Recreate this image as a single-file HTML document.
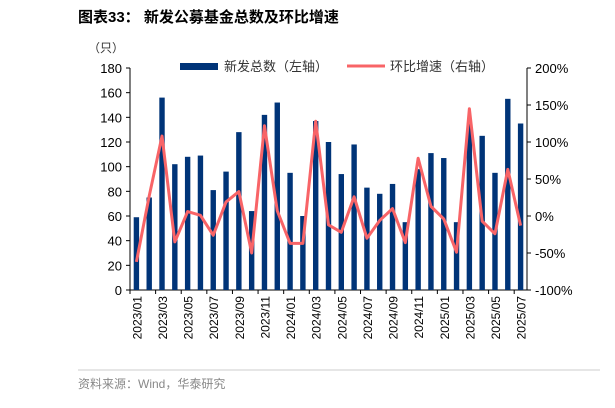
<!DOCTYPE html>
<html><head><meta charset="utf-8"><style>
body{margin:0;background:#fff;width:615px;height:403px;overflow:hidden;font-family:"Liberation Sans","Noto Sans CJK SC",sans-serif}
</style></head><body>
<svg id="c" width="615" height="403" xmlns="http://www.w3.org/2000/svg">
<text x="78" y="22" font-size="15" font-weight="bold" fill="#000" font-family="Liberation Sans,Noto Sans CJK SC,sans-serif">图表33：  新发公募基金总数及环比增速</text>
<text x="88" y="52" font-size="12" fill="#333">（只）</text>
<text x="78" y="388" font-size="12" fill="#888">资料来源：Wind，华泰研究</text>
<line x1="78" y1="370" x2="600" y2="370" stroke="#ccc"/>
<g id="g"></g>
</svg>
<script>
const categories=["2023/01","2023/02","2023/03","2023/04","2023/05","2023/06","2023/07","2023/08","2023/09","2023/10","2023/11","2023/12","2024/01","2024/02","2024/03","2024/04","2024/05","2024/06","2024/07","2024/08","2024/09","2024/10","2024/11","2024/12","2025/01","2025/02","2025/03","2025/04","2025/05","2025/06","2025/07"];
const newFunds=[59,75,156,102,108,109,81,96,128,64,142,152,95,60,137,120,94,118,83,78,86,55,98,111,107,55,135,125,95,155,135];
const momGrowth=[-62,27,108,-35,6,1,-26,19,33,-50,122,7,-37,-37,128,-12,-22,26,-30,-6,10,-36,78,13,-4,-49,145,-7,-24,63,-13];
const leftTicks=[0,20,40,60,80,100,120,140,160,180];
const rightTicks=[-100,-50,0,50,100,150,200];
const NS="http://www.w3.org/2000/svg",g=document.getElementById('g');
const X0=130,X1=527,Y0=290,Y1=68;
const step=(X1-X0)/categories.length;
const x=i=>X0+step*(i+0.5);
const yL=v=>Y0-(v/180)*(Y0-Y1);
const yR=v=>Y0-((v+100)/300)*(Y0-Y1);
function el(t,a,txt){const e=document.createElementNS(NS,t);for(const k in a)e.setAttribute(k,a[k]);if(txt!=null)e.textContent=txt;g.appendChild(e);return e;}
let e;
e=el('line',{x1:X0,y1:Y1,x2:X0,y2:Y0,stroke:'#000'});
e=el('line',{x1:X1,y1:Y1,x2:X1,y2:Y0,stroke:'#000'});
e=el('line',{x1:X0,y1:Y0,x2:X1,y2:Y0,stroke:'#000'});
leftTicks.forEach(v=>{el('line',{x1:X0-4,x2:X0,y1:yL(v),y2:yL(v),stroke:'#000'});
e=el('text',{x:X0-8,y:yL(v)+5,'font-size':13,'text-anchor':'end'},v);});
rightTicks.forEach(v=>{el('line',{x1:X1,x2:X1+4,y1:yR(v),y2:yR(v),stroke:'#000'});
e=el('text',{x:X1+8,y:yR(v)+5,'font-size':13},v+'%');});
categories.forEach((c,i)=>{
 if(i%2==0){el('line',{x1:X0+step*i,x2:X0+step*i,y1:Y0,y2:Y0+4,stroke:'#000'});
 e=el('text',{transform:`translate(${x(i)+5},${Y0+6}) rotate(-90)`,'font-size':12,'text-anchor':'end'},c);}
 e=el('rect',{x:x(i)-2.7,y:yL(newFunds[i]),width:5.4,height:Y0-yL(newFunds[i]),fill:'#003478'});
});
e=el('polyline',{points:momGrowth.map((v,i)=>x(i)+','+yR(v)).join(' '),fill:'none',stroke:'#f86467','stroke-width':3,'stroke-linejoin':'round'});

e=el('rect',{x:180,y:63,width:38,height:7,fill:'#003478'});
e=el('text',{x:224,y:71,'font-size':13,fill:'#333'},'新发总数（左轴）');
e=el('line',{x1:347,x2:385,y1:66,y2:66,stroke:'#f86467','stroke-width':3});
e=el('text',{x:390,y:71,'font-size':13,fill:'#333'},'环比增速（右轴）');
</script>
</body></html>
